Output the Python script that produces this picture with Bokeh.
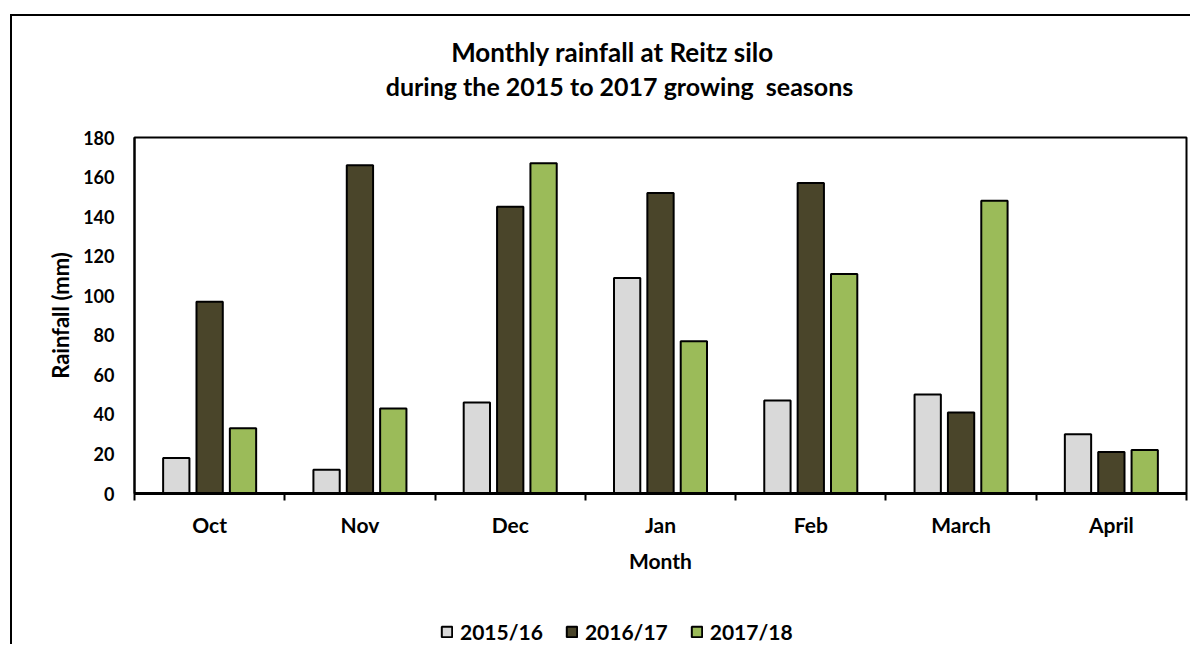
from bokeh.plotting import figure
from bokeh.layouts import column
from bokeh.models import (Range1d, FixedTicker, Legend, LegendItem, Label, BoxAnnotation,
                          ColumnDataSource, CustomJSTickFormatter)
from bokeh.transform import dodge
from bokeh.embed import file_html
from bokeh.resources import INLINE

# ---- data ----
months = ["Oct", "Nov", "Dec", "Jan", "Feb", "March", "April"]
seasons = ["2015/16", "2016/17", "2017/18"]
rain_2015_16 = [18, 12, 46, 109, 47, 50, 30]
rain_2016_17 = [97, 166, 145, 152, 157, 41, 21]
rain_2017_18 = [33, 43, 167, 77, 111, 148, 22]
y_ticks = [0, 20, 40, 60, 80, 100, 120, 140, 160, 180]
title_lines = ["Monthly rainfall at Reitz silo",
               "during the 2015 to 2017 growing \u00a0seasons"]

colors = ["#D9D9D9", "#4A452A", "#9BBB59"]
FONT = "Lato"

pos = [i + 0.5 for i in range(len(months))]
bounds = [i for i in range(len(months) + 1)]
source = ColumnDataSource(dict(pos=pos, month=months,
                               s0=rain_2015_16, s1=rain_2016_17, s2=rain_2017_18))
fields = ["s0", "s1", "s2"]
offsets = [-0.222, 0.0, 0.222]

W = 1178
FRAME_W = 1052

# ---- title strip ----
p0 = figure(width=W, height=100, output_backend="svg", toolbar_location=None,
            x_range=Range1d(0, FRAME_W), y_range=Range1d(0, 100),
            x_axis_type=None, y_axis_type=None, min_border=0)
p0.xgrid.visible = False
p0.ygrid.visible = False
p0.outline_line_color = None
p0.background_fill_color = "white"
p0.border_fill_color = "white"
for txt, xc, yc, fs in zip(title_lines, [478, 485], [65, 31], ["26px", "25px"]):
    p0.add_layout(Label(x=xc, y=yc, text=txt, text_align="center", text_baseline="middle",
                        text_font=FONT, text_font_style="bold", text_font_size=fs,
                        text_color="black"))

# ---- main chart ----
p = figure(width=W, height=480, output_backend="svg", toolbar_location=None,
           x_range=Range1d(0, len(months)), y_range=Range1d(0, 180),
           min_border_left=122, min_border_right=4, min_border_top=21,
           min_border_bottom=103)

p.xgrid.visible = False
p.ygrid.visible = False
p.outline_line_color = "black"
p.outline_line_width = 2
p.background_fill_color = "white"
p.border_fill_color = "white"

for k, (fld, col) in enumerate(zip(fields, colors)):
    p.vbar(x=dodge("pos", offsets[k]), top=fld, width=0.175, bottom=0,
           source=source, fill_color=col, line_color="black", line_width=2)

# x axis
xa = p.xaxis[0]
xa.ticker = FixedTicker(ticks=pos, minor_ticks=bounds)
xa.formatter = CustomJSTickFormatter(args=dict(names=months),
                                     code="return names[Math.floor(tick)];")
xa.major_tick_out = 0
xa.major_tick_in = 0
xa.minor_tick_out = 7
xa.minor_tick_in = 0
xa.minor_tick_line_color = "black"
xa.minor_tick_line_width = 2
xa.axis_line_width = 3
xa.axis_line_color = "black"
xa.major_label_text_font = FONT
xa.major_label_text_font_style = "bold"
xa.major_label_text_font_size = "21px"
xa.major_label_text_color = "black"
xa.major_label_standoff = 11
xa.axis_label = "Month"
xa.axis_label_text_font = FONT
xa.axis_label_text_font_style = "bold"
xa.axis_label_text_font_size = "21px"
xa.axis_label_text_color = "black"
xa.axis_label_standoff = 8

# y axis
ya = p.yaxis[0]
ya.ticker = FixedTicker(ticks=y_ticks)
ya.major_tick_out = 0
ya.major_tick_in = 0
ya.minor_tick_out = 0
ya.minor_tick_in = 0
ya.axis_line_width = 2
ya.axis_line_color = "black"
ya.major_label_text_font = FONT
ya.major_label_text_font_style = "bold"
ya.major_label_text_font_size = "18px"
ya.major_label_text_color = "black"
ya.major_label_standoff = 20
ya.axis_label = "Rainfall (mm)"
ya.axis_label_text_font = FONT
ya.axis_label_text_font_style = "bold"
ya.axis_label_text_font_size = "22px"
ya.axis_label_text_color = "black"
ya.axis_label_standoff = 6

# ---- legend strip below the chart ----
p2 = figure(width=W, height=48, output_backend="svg", toolbar_location=None,
            x_range=Range1d(0, len(months)), y_range=Range1d(500, 501),
            x_axis_type=None, y_axis_type=None, min_border=0)
p2.xgrid.visible = False
p2.ygrid.visible = False
p2.outline_line_color = None
p2.background_fill_color = "white"
p2.border_fill_color = "white"
keys = []
for k, (fld, col) in enumerate(zip(fields, colors)):
    d = p2.vbar(x=dodge("pos", offsets[k]), top=fld, width=0.175, bottom=0,
                source=source, fill_color=col, line_color="black", line_width=2)
    keys.append(d)
p2.add_layout(BoxAnnotation(fill_color="white", fill_alpha=1.0, line_alpha=0))

legend = Legend(items=[LegendItem(label=s, renderers=[r]) for s, r in zip(seasons, keys)],
                orientation="horizontal", location=(306, 0),
                label_text_font=FONT, label_text_font_style="bold",
                label_text_font_size="21px", label_text_color="black",
                glyph_width=13, glyph_height=13, label_standoff=7, spacing=22,
                border_line_color=None, background_fill_alpha=0,
                padding=0, margin=0)
p2.add_layout(legend, "center")

layout = column(p0, p, p2, spacing=0,
                styles={"margin-left": "10px", "margin-top": "14px",
                        "border-left": "2px solid #000", "border-top": "2px solid #000"})

open("out.html", "w").write(file_html(layout, INLINE))
